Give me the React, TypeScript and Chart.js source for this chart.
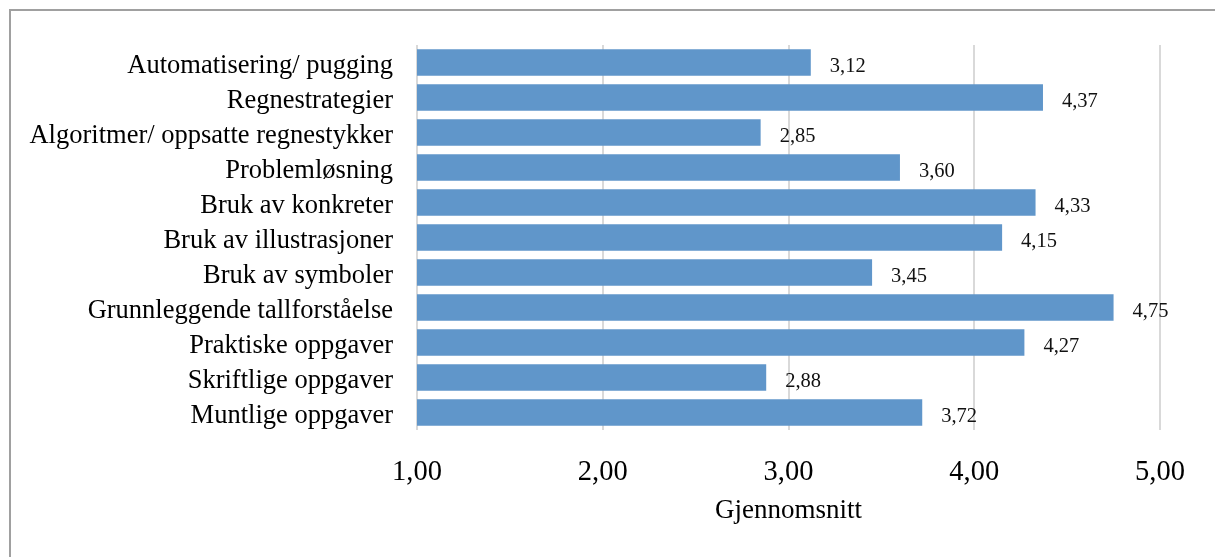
import React, { useEffect, useRef } from "react";
import { Chart, registerables } from "chart.js";

Chart.register(...registerables);

// Topics rated by respondents, top to bottom
const categories: string[] = [
  "Automatisering/ pugging",
  "Regnestrategier",
  "Algoritmer/ oppsatte regnestykker",
  "Problemløsning",
  "Bruk av konkreter",
  "Bruk av illustrasjoner",
  "Bruk av symboler",
  "Grunnleggende tallforståelse",
  "Praktiske oppgaver",
  "Skriftlige oppgaver",
  "Muntlige oppgaver",
];

// Mean score per topic
const averages: number[] = [3.12, 4.37, 2.85, 3.6, 4.33, 4.15, 3.45, 4.75, 4.27, 2.88, 3.72];

// Axis ticks
const xTicks: number[] = [1, 2, 3, 4, 5];

const axisTitle = "Gjennomsnitt";

const SERIF = '"Liberation Serif", "Times New Roman", serif';
const fmt = (v: number) => v.toFixed(2).replace(".", ",");

// Writes each bar's value just to the right of its end
const valueLabels = {
  id: "valueLabels",
  afterDatasetsDraw(chart: any) {
    const { ctx } = chart;
    const meta = chart.getDatasetMeta(0);
    ctx.save();
    ctx.font = `20.5px ${SERIF}`;
    ctx.fillStyle = "#111";
    ctx.textAlign = "left";
    ctx.textBaseline = "middle";
    meta.data.forEach((bar: any, i: number) => {
      ctx.fillText(fmt(averages[i]), bar.x + 19, bar.y + 4);
    });
    ctx.restore();
  },
};

export default function App() {
  const canvasRef = useRef<HTMLCanvasElement | null>(null);

  useEffect(() => {
    if (!canvasRef.current) return;
    const chart = new Chart(canvasRef.current, {
      type: "bar",
      data: {
        labels: categories,
        datasets: [
          {
            data: averages,
            backgroundColor: "#6096CA",
            borderWidth: 0,
            barPercentage: 0.76,
            categoryPercentage: 1,
          },
        ],
      },
      plugins: [valueLabels],
      options: {
        indexAxis: "y",
        animation: false,
        responsive: false,
        maintainAspectRatio: false,
        layout: { padding: { left: 0, right: 55, top: 45, bottom: 30 } },
        plugins: {
          legend: { display: false },
          title: { display: false },
          tooltip: { enabled: false },
        },
        scales: {
          x: {
            min: 1,
            max: 5,
            afterBuildTicks: (scale: any) => {
              scale.ticks = xTicks.map((v) => ({ value: v }));
            },
            afterFit: (scale: any) => {
              scale.height = 97;
            },
            grid: { color: "#d9d9d9", lineWidth: 2, drawTicks: false },
            border: { display: false },
            ticks: {
              padding: 25,
              color: "#000",
              font: { family: SERIF, size: 28.5 },
              callback: (v: any) => fmt(Number(v)),
            },
            title: {
              display: true,
              text: axisTitle,
              color: "#000",
              font: { family: SERIF, size: 27 },
              padding: { top: 0, bottom: 0 },
            },
          },
          y: {
            afterFit: (scale: any) => {
              scale.width = 417;
            },
            grid: { display: false, drawTicks: false },
            border: { display: false },
            ticks: {
              padding: 24,
              labelOffset: 4,
              color: "#000",
              autoSkip: false,
              font: { family: SERIF, size: 26.5 },
            },
          },
        },
      },
    });
    return () => chart.destroy();
  }, []);

  return (
    <div style={{ position: "absolute", left: 0, top: 0, width: 1215, height: 557, background: "#fff" }}>
      <div
        style={{
          position: "absolute",
          left: 9,
          top: 9,
          right: 0,
          bottom: 0,
          borderLeft: "2px solid #a0a0a0",
          borderTop: "2px solid #a0a0a0",
        }}
      />
      <canvas
        ref={canvasRef}
        width={1215}
        height={557}
        style={{ position: "absolute", left: 0, top: 0, width: 1215, height: 557 }}
      />
    </div>
  );
}
